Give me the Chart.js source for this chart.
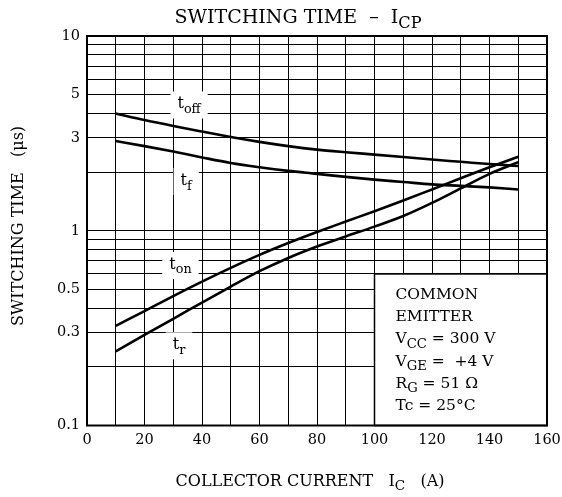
<!DOCTYPE html>
<html>
<head>
<meta charset="utf-8">
<script src="https://cdn.jsdelivr.net/npm/chart.js@4"></script>
<style>
  html, body { margin: 0; padding: 0; background: #fff; }
  #wrap { width: 562px; height: 497px; }
</style>
</head>
<body>
<div id="wrap"><canvas id="chart" width="562" height="497"></canvas></div>
<script>
// collector current Ic (A)
const current = [10, 20, 30, 40, 50, 60, 70, 80, 90, 100, 110, 120, 130, 140, 150];

// switching times (us)
const tOff = [4.0, 3.70, 3.45, 3.23, 3.03, 2.86, 2.72, 2.61, 2.53, 2.46, 2.39, 2.32, 2.26, 2.20, 2.15];
const tF   = [2.89, 2.72, 2.55, 2.38, 2.23, 2.12, 2.03, 1.96, 1.89, 1.83, 1.78, 1.73, 1.70, 1.67, 1.63];
const tOn  = [0.325, 0.387, 0.462, 0.548, 0.645, 0.752, 0.865, 0.985, 1.115, 1.26, 1.43, 1.63, 1.86, 2.12, 2.40];
const tR   = [0.24, 0.292, 0.353, 0.428, 0.517, 0.62, 0.725, 0.83, 0.935, 1.05, 1.19, 1.39, 1.65, 1.96, 2.25];

const yGrid = [0.1, 0.2, 0.3, 0.4, 0.5, 0.6, 0.7, 0.8, 0.9, 1, 2, 3, 4, 5, 6, 7, 8, 9, 10];
const yLabels = [0.1, 0.3, 0.5, 1, 3, 5, 10];

// curve labels: [main, subscript, x, y]
const curveLabels = [
  ["t", "off", 35.5, 4.45],
  ["t", "f", 34.5, 1.80],
  ["t", "on", 32.5, 0.667],
  ["t", "r", 32, 0.258]
];

const conditions = [
  [["COMMON"]],
  [["EMITTER"]],
  [["V"], ["CC", 1], [" = 300 V"]],
  [["V"], ["GE", 1], [" =  +4 V"]],
  [["R"], ["G", 1], [" = 51 Ω"]],
  [["Tc = 25°C"]]
];

const FONT = "'DejaVu Serif', serif";

function richWidth(ctx, parts, size, k) {
  let w = 0;
  parts.forEach(p => {
    ctx.font = (p[1] ? size * k : size) + "px " + FONT;
    w += ctx.measureText(p[0]).width;
  });
  return w;
}

function drawRich(ctx, parts, x, y, size, align, k) {
  k = k || 0.78;
  let w = richWidth(ctx, parts, size, k);
  if (align === "center") x -= w / 2;
  ctx.textAlign = "left";
  ctx.textBaseline = "alphabetic";
  parts.forEach(p => {
    ctx.font = (p[1] ? size * k : size) + "px " + FONT;
    ctx.fillText(p[0], x, y + (p[1] ? size * 0.28 : 0));
    x += ctx.measureText(p[0]).width;
  });
}

const decor = {
  id: "decor",
  beforeDatasetsDraw(chart) {
    const ctx = chart.ctx;
    const xs = chart.scales.x, ys = chart.scales.y;
    ctx.save();
    // condition box
    const bx = xs.getPixelForValue(100), by = ys.getPixelForValue(0.6);
    ctx.fillStyle = "#fff";
    ctx.fillRect(bx, by, xs.right - bx, ys.bottom - by);
    ctx.strokeStyle = "#000";
    ctx.lineWidth = 1.5;
    ctx.strokeRect(bx, by, xs.right - bx, ys.bottom - by);
    ctx.fillStyle = "#000";
    conditions.forEach((row, i) => {
      drawRich(ctx, row, bx + 21, by + 25 + i * 22.2, 15.5, "left", 0.85);
    });
    // white patches behind the curve labels
    curveLabels.forEach(l => {
      const px = xs.getPixelForValue(l[2]), py = ys.getPixelForValue(l[3]);
      const w = richWidth(ctx, [[l[0]], [l[1], 1]], 16, 0.8);
      ctx.fillStyle = "#fff";
      ctx.fillRect(px - w / 2 - 7, py - 13, w + 14, 27);
      ctx.fillStyle = "#000";
      drawRich(ctx, [[l[0]], [l[1], 1]], px, py + 4, 16, "center", 0.8);
    });
    ctx.restore();
  },
  afterDraw(chart) {
    const ctx = chart.ctx;
    const a = chart.chartArea;
    ctx.save();
    ctx.strokeStyle = "#000";
    ctx.lineWidth = 2;
    ctx.strokeRect(a.left, a.top, a.right - a.left, a.bottom - a.top);
    ctx.fillStyle = "#000";
    drawRich(ctx, [["SWITCHING TIME  –  I"], ["CP", 1]], 298, 23, 19, "center", 0.85);
    drawRich(ctx, [["COLLECTOR CURRENT   I"], ["C", 1], ["   (A)"]], 310, 486, 16, "center", 0.85);
    ctx.translate(19, 226);
    ctx.rotate(-Math.PI / 2);
    ctx.font = "16px " + FONT;
    ctx.textAlign = "center";
    ctx.textBaseline = "middle";
    ctx.fillText("SWITCHING TIME   (μs)", 0, 0);
    ctx.restore();
  }
};

new Chart(document.getElementById("chart"), {
  type: "line",
  data: {
    datasets: [
      { label: "toff", data: current.map((c, i) => ({ x: c, y: tOff[i] })) },
      { label: "tf", data: current.map((c, i) => ({ x: c, y: tF[i] })) },
      { label: "ton", data: current.map((c, i) => ({ x: c, y: tOn[i] })) },
      { label: "tr", data: current.map((c, i) => ({ x: c, y: tR[i] })) }
    ].map(d => Object.assign(d, {
      borderColor: "#000",
      borderWidth: 2.6,
      pointRadius: 0,
      fill: false,
      cubicInterpolationMode: "monotone"
    }))
  },
  options: {
    responsive: false,
    animation: false,
    layout: { padding: { left: 0, right: 15, top: 36, bottom: 0 } },
    plugins: { legend: { display: false }, tooltip: { enabled: false } },
    scales: {
      x: {
        type: "linear",
        min: 0,
        max: 160,
        afterFit: s => { s.height = 71.5; s.paddingLeft = 0; s.paddingRight = 0; },
        grid: { color: "#000", lineWidth: 1, drawTicks: false },
        border: { display: false },
        ticks: {
          stepSize: 10,
          padding: 6,
          color: "#000",
          font: { family: FONT, size: 14.5 },
          maxRotation: 0,
          autoSkip: false,
          callback: v => (v % 20 === 0 ? v : "")
        }
      },
      y: {
        type: "logarithmic",
        min: 0.1,
        max: 10,
        afterFit: s => { s.width = 87; s.paddingTop = 0; s.paddingBottom = 0; },
        afterBuildTicks: s => { s.ticks = yGrid.map(v => ({ value: v })); },
        grid: { color: "#000", lineWidth: 1, drawTicks: false },
        border: { display: false },
        ticks: {
          padding: 7,
          color: "#000",
          font: { family: FONT, size: 14.5 },
          autoSkip: false,
          callback: v => (yLabels.includes(v) ? String(v) : "")
        }
      }
    }
  },
  plugins: [decor]
});
</script>
</body>
</html>
